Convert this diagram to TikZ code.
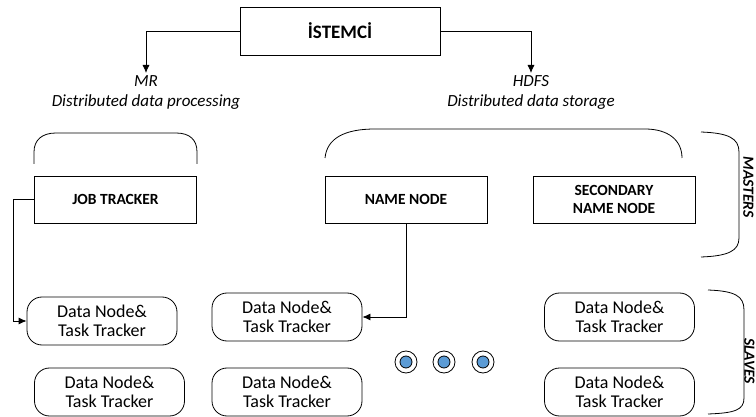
\documentclass[tikz,border=0pt]{standalone}
\usepackage{fontspec}
\setmainfont{Carlito}
\usetikzlibrary{arrows.meta}
\definecolor{dotblue}{HTML}{5B9BD5}
\begin{document}
\begin{tikzpicture}[x=1pt,y=-1pt,line width=0.8pt,
    arr/.style={-{Latex[length=8,width=7]}},
    box/.style={draw, minimum width=162, minimum height=47, align=center,
      font=\bfseries\fontsize{15.5}{18}\selectfont},
    dnbox/.style={draw, rounded corners=15, minimum width=150, minimum height=48,
      align=center, font=\fontsize{18}{18.5}\selectfont},
    label/.style={align=center, inner sep=2, font=\itshape\fontsize{17}{20}\selectfont},
    side/.style={rotate=-90, font=\bfseries\itshape\fontsize{15.5}{18}\selectfont},
    ring/.style={draw, circle, minimum size=22, inner sep=0}]
        \useasboundingbox (0,0) rectangle (756,417);
        % client
        \node [draw, minimum width=200, minimum height=48,
          font=\bfseries\fontsize{19}{22}\selectfont] (client) at (340,31) {İSTEMCİ};
        \node [label, anchor=north] (mr) at (146,73) {MR\\Distributed data processing};
        \node [label, anchor=north] (hdfs) at (531,73) {HDFS\\Distributed data storage};
        \draw [arr] (client.west) -| (mr.north);
        \draw [arr] (client.east) -| (hdfs.north);
        % masters
        \node [box] (jobtracker) at (115.5,199.5) {JOB TRACKER};
        \node [box] (namenode) at (406,199.5) {NAME NODE};
        \node [box] (secnamenode) at (614,199.5) {SECONDARY\\NAME NODE};
        \draw (34,164) -- (34,152) .. controls (34,140) and (42,133) .. (56,133)
          -- (176,133) .. controls (190,133) and (197,140) .. (197,152) -- (197,164);
        \draw (325,158) .. controls (327,138) and (345,129) .. (375,129)
          -- (645,129) .. controls (668,129) and (682,140) .. (682,158);
        % slaves
        \node [dnbox] (dn1) at (102,321) {Data Node\&\\Task Tracker};
        \node [dnbox] (dn2) at (109.5,392) {Data Node\&\\Task Tracker};
        \node [dnbox] (dn3) at (287,317) {Data Node\&\\Task Tracker};
        \node [dnbox] (dn4) at (287,392) {Data Node\&\\Task Tracker};
        \node [dnbox] (dn5) at (619.5,317) {Data Node\&\\Task Tracker};
        \node [dnbox] (dn6) at (619.5,392) {Data Node\&\\Task Tracker};
        \draw [arr] (jobtracker.west) -- ++(-21,0) |- (dn1.west);
        \draw [arr] (namenode.south) |- (dn3.east);
        \foreach \x [count=\i] in {406,444,483} {
          \node [ring] (dot\i) at (\x,362) {};
          \filldraw [fill=dotblue] (dot\i.center) circle (6);
        }
        % braces
        \draw (701,132) .. controls (728,133) and (739,138) .. (739,152)
          -- (739,238) .. controls (739,251) and (728,256) .. (701,257);
        \draw (708,290) .. controls (735,291) and (744,296) .. (744,310)
          -- (744,398) .. controls (744,410) and (735,413) .. (708,414);
        \node [side] (masters) at (748.5,187) {MASTERS};
        \node [side] (slaves) at (749.5,361) {SLAVES};
\end{tikzpicture}
\end{document}
